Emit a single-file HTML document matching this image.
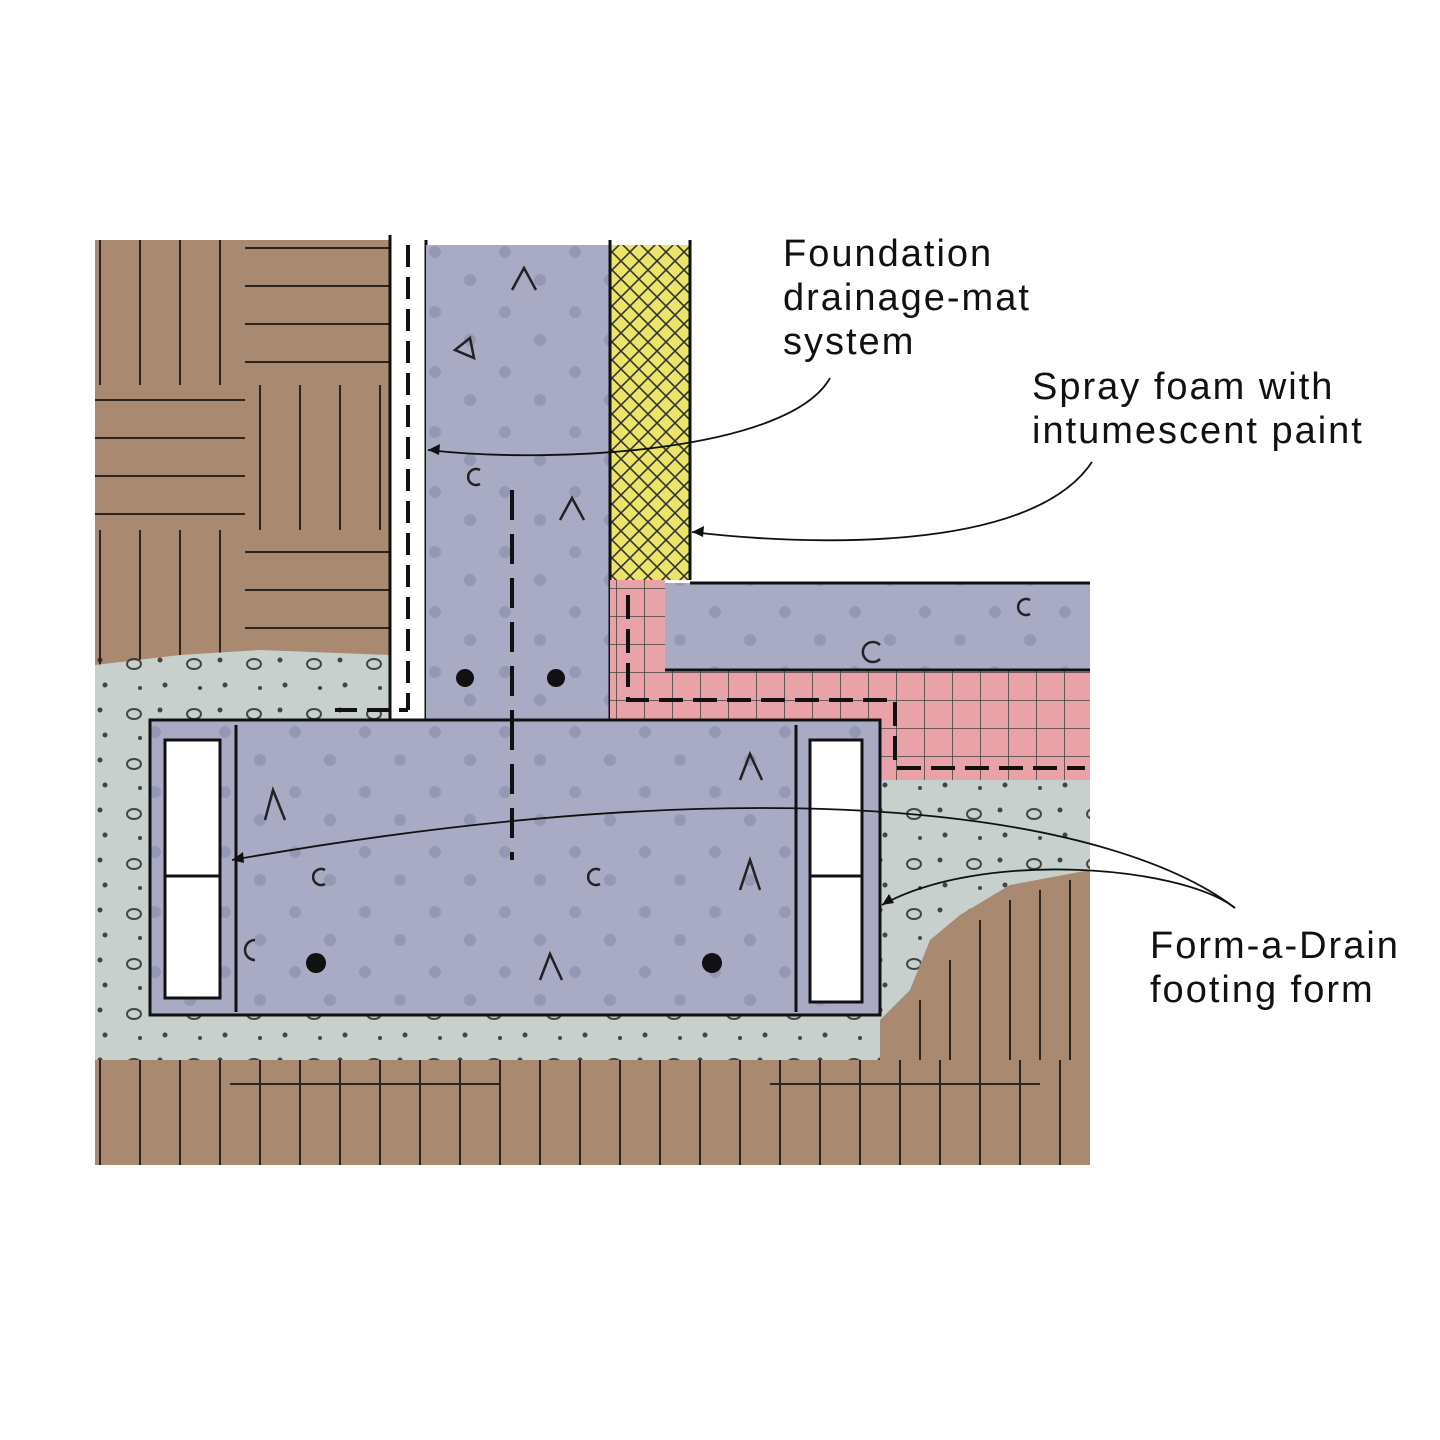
<!DOCTYPE html>
<html><head><meta charset="utf-8"><style>
html,body{margin:0;padding:0;background:#fff;}
svg{display:block}
text{font-family:"Liberation Sans",sans-serif;font-size:38px;letter-spacing:2px;fill:#111;}
</style></head><body>
<svg width="1440" height="1440" viewBox="0 0 1440 1440" xmlns="http://www.w3.org/2000/svg">
<defs>
<pattern id="xh" width="18" height="18" patternUnits="userSpaceOnUse">
<path d="M0 0L18 18M18 0L0 18" stroke="#333" stroke-width="1.6"/></pattern>
<pattern id="grid" width="28" height="28" patternUnits="userSpaceOnUse">
<path d="M0 0H28M0 0V28" stroke="#444" stroke-width="1.6"/></pattern>
<pattern id="dots" width="70" height="60" patternUnits="userSpaceOnUse">
<circle cx="15" cy="12" r="6" fill="#8e90ad" opacity=".7"/><circle cx="50" cy="40" r="6" fill="#8e90ad" opacity=".7"/></pattern>
<pattern id="grav" width="60" height="50" patternUnits="userSpaceOnUse">
<ellipse cx="14" cy="14" rx="7" ry="5" fill="none" stroke="#222" stroke-width="2"/><circle cx="40" cy="10" r="2.5" fill="#222"/><circle cx="45" cy="35" r="2.5" fill="#222"/><circle cx="20" cy="38" r="2" fill="#222"/></pattern>
<pattern id="soilv" width="40" height="150" patternUnits="userSpaceOnUse">
<path d="M20 0V150" stroke="#2a2520" stroke-width="2"/></pattern>
<pattern id="soilh" width="150" height="38" patternUnits="userSpaceOnUse">
<path d="M0 20H150" stroke="#2a2520" stroke-width="2"/></pattern>
</defs>
<rect x="95" y="240" width="295" height="425" fill="#a98a70"/>
<rect x="95" y="240" width="150" height="145" fill="url(#soilv)"/>
<rect x="245" y="240" width="145" height="145" fill="url(#soilh)"/>
<rect x="95" y="385" width="150" height="145" fill="url(#soilh)"/>
<rect x="245" y="385" width="145" height="145" fill="url(#soilv)"/>
<rect x="95" y="530" width="150" height="135" fill="url(#soilv)"/>
<rect x="245" y="530" width="145" height="135" fill="url(#soilh)"/>
<rect x="95" y="1040" width="995" height="125" fill="#a98a70"/>
<rect x="95" y="1040" width="995" height="125" fill="url(#soilv)"/>
<rect x="230" y="1055" width="270" height="55" fill="url(#soilh)"/>
<rect x="770" y="1055" width="270" height="55" fill="url(#soilh)"/>
<path d="M95 665 L180 655 L260 650 L390 655 L390 720 L610 720 L880 720 L880 780 L1090 780 L1090 1060 L95 1060Z" fill="#c8d0cd"/>
<rect x="95" y="655" width="995" height="405" fill="url(#grav)" opacity=".8"/>
<path d="M880 1020 L910 990 L930 940 L960 915 L1010 885 L1090 870 L1090 1060 L880 1060Z" fill="#a98a70"/>
<path d="M920 1000V1060M950 960V1060M980 920V1060M1010 900V1060M1040 890V1060M1070 880V1060" stroke="#2a2520" stroke-width="2"/>
<rect x="390" y="235" width="36" height="485" fill="#fff"/>
<path d="M390 235V720M426 240V720" stroke="#111" stroke-width="3"/>
<path d="M408 245V710" stroke="#111" stroke-width="4" stroke-dasharray="22 10"/>
<path d="M335 710H408" stroke="#111" stroke-width="4" stroke-dasharray="22 10"/>
<rect x="426" y="245" width="184" height="475" fill="#a9abc5"/>
<rect x="426" y="245" width="184" height="475" fill="url(#dots)"/>
<path d="M512 490V720" stroke="#111" stroke-width="4" stroke-dasharray="30 14"/>
<circle cx="465" cy="678" r="9" fill="#111"/><circle cx="556" cy="678" r="9" fill="#111"/>
<rect x="610" y="245" width="80" height="335" fill="#ece468"/>
<rect x="610" y="245" width="80" height="335" fill="url(#xh)"/>
<path d="M610 240V720M690 240V580" stroke="#111" stroke-width="3"/>
<path d="M610 580H665V670H1090V780H880V720H610Z" fill="#e9a3a8"/>
<path d="M610 580H665V670H1090V780H880V720H610Z" fill="url(#grid)"/>
<path d="M628 595V700H895V768H1085" fill="none" stroke="#111" stroke-width="4" stroke-dasharray="24 10"/>
<rect x="665" y="583" width="425" height="87" fill="#a9abc5"/>
<rect x="665" y="583" width="425" height="87" fill="url(#dots)"/>
<path d="M690 583H1090M665 670H1090" stroke="#111" stroke-width="3"/>
<rect x="150" y="720" width="730" height="295" fill="#a9abc5"/>
<rect x="150" y="720" width="730" height="295" fill="url(#dots)"/>
<rect x="150" y="720" width="730" height="295" fill="none" stroke="#111" stroke-width="3"/>
<path d="M512 720V860" stroke="#111" stroke-width="4" stroke-dasharray="30 14"/>
<circle cx="316" cy="963" r="10" fill="#111"/><circle cx="712" cy="963" r="10" fill="#111"/>
<rect x="165" y="740" width="55" height="258" fill="#fff" stroke="#111" stroke-width="3"/>
<path d="M165 876H220M236 725V1012" stroke="#111" stroke-width="3"/>
<rect x="810" y="740" width="52" height="262" fill="#fff" stroke="#111" stroke-width="3"/>
<path d="M810 876H862M796 725V1012" stroke="#111" stroke-width="3"/>
<g fill="none" stroke="#222" stroke-width="2.5">
<path d="M512 290l12-22 12 22"/><path d="M455 350l15-12 4 20z"/><path d="M560 520l12-22 12 22"/><path d="M265 820l8-30 12 30"/><path d="M740 890l10-30 10 30"/><path d="M740 780l10-26 12 26"/><path d="M540 980l10-26 12 26"/>
<path d="M480 470a8 8 0 1 0 0 14"/><path d="M325 870a8 8 0 1 0 0 14"/><path d="M600 870a8 8 0 1 0 0 14"/><path d="M880 645a10 10 0 1 0 0 14"/><path d="M1030 600a8 8 0 1 0 0 14"/><path d="M255 940a8 8 0 1 0 0 20"/>
</g>
<g fill="none" stroke="#111" stroke-width="1.8">
<path d="M830 378 C790 450 560 465 428 450"/>
<path d="M1092 462 C1030 555 800 545 692 532"/>
<path d="M1235 908 C1120 820 800 760 232 860"/>
<path d="M1235 908 C1180 865 980 850 882 905"/>
</g>
<g fill="#111">
<path d="M428 450l12-6-1 11z"/><path d="M692 532l12-6-1 11z"/><path d="M232 860l11-8 1 11z"/><path d="M882 905l7-11 5 9z"/>
</g>
<text x="783" y="266">Foundation</text>
<text x="783" y="310">drainage-mat</text>
<text x="783" y="354">system</text>
<text x="1032" y="399">Spray foam with</text>
<text x="1032" y="443">intumescent paint</text>
<text x="1150" y="958">Form-a-Drain</text>
<text x="1150" y="1002">footing form</text>
</svg>
</body></html>
